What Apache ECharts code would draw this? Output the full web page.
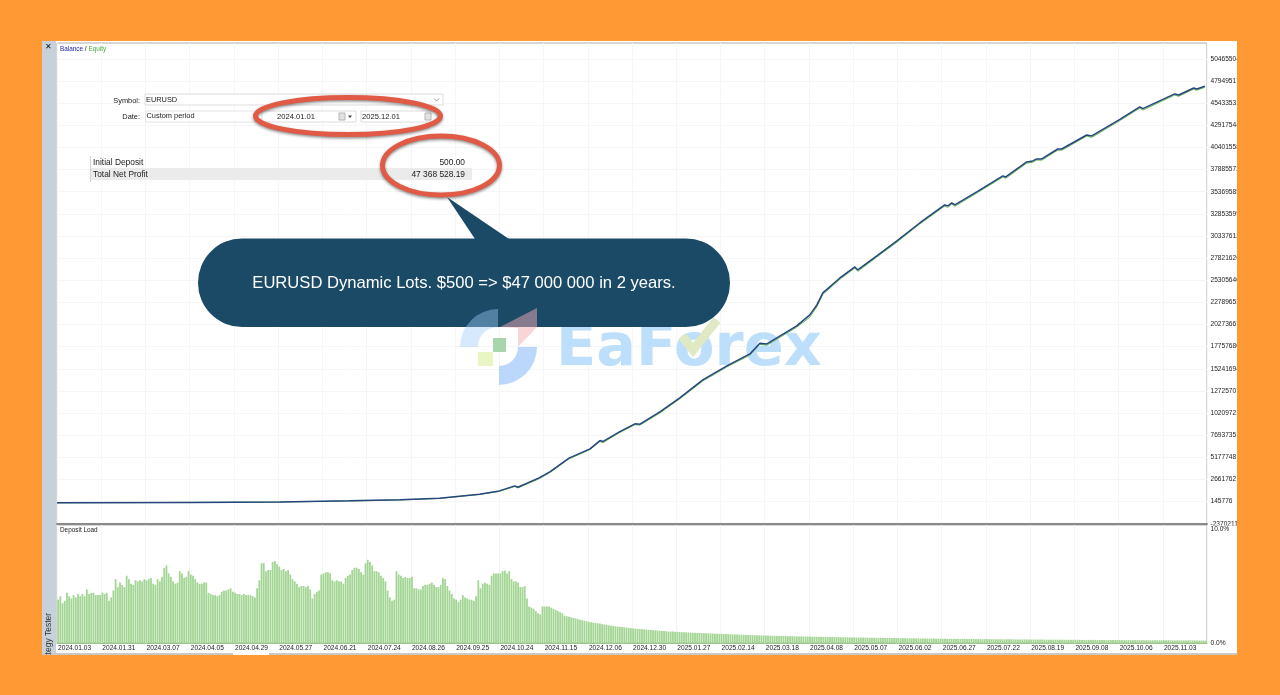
<!DOCTYPE html>
<html><head><meta charset="utf-8">
<style>html,body{margin:0;padding:0;background:#ff9933}#c{width:1280px;height:695px}</style>
<script src="https://cdn.jsdelivr.net/npm/echarts@6/dist/echarts.min.js"></script>
</head><body><div id="c"></div>
<script>
const xTickLabels=['2024.01.03','2024.01.31','2024.03.07','2024.04.05','2024.04.29','2024.05.27','2024.06.21','2024.07.24','2024.08.26','2024.09.25','2024.10.24','2024.11.15','2024.12.06','2024.12.30','2025.01.27','2025.02.14','2025.03.18','2025.04.08','2025.05.07','2025.06.02','2025.06.27','2025.07.22','2025.08.19','2025.09.08','2025.10.06','2025.11.03'];
const yTickValues=[-2370211,145776,2661762,5177748,7693735,10209721,12725707,15241694,17757680,20273667,22789653,25305640,27821626,30337612,32853599,35369585,37885572,40401558,42917544,45433531,47949517,50465504];
const curveIndex=[0,60,101,132,155,173,191,200,207,208.4,218,223,231.5,232.4,241,245.5,246.8,254.5,261.3,263.6,272.6,281.6,292,302.9,313.3,317.8,321,334.5,340.4,343.6,346.3,354,360.8,362.1,370.7,379.8,390.1,401.4,402.8,404.6,406,415.9,427.7,429,438.5,441.2,443,445.3,452.5,454.3,465.6,467.9,480.6,489.6,491,505.4,507.2,514,515.4,519];
const balanceMillions=[0.0005,0.05,0.11,0.225,0.34,0.532,0.987,1.36,1.93,1.78,2.84,3.56,5.08,4.89,6.14,7.08,6.97,8.10,8.98,8.94,10.34,11.93,13.98,15.57,16.93,18.15,18.07,20.12,21.37,22.50,23.87,25.57,26.82,26.48,28.07,29.78,31.82,33.87,33.76,34.10,33.87,35.35,37.17,37.05,38.76,38.87,39.10,39.10,40.23,40.23,41.82,41.71,43.59,45.01,44.82,46.49,46.37,47.17,47.05,47.37];
const equityMillions=[0.0005,0.05,0.10,0.21,0.32,0.51,0.95,1.30,1.86,1.70,2.74,3.46,5.00,4.78,6.05,6.98,6.85,8.00,8.88,8.84,10.22,11.82,13.85,15.45,16.80,18.02,17.92,19.98,21.10,22.30,23.70,25.42,26.70,26.32,27.95,29.65,31.70,33.74,33.60,33.98,33.72,35.22,37.05,36.90,38.62,38.72,38.98,38.96,40.10,40.08,41.70,41.55,43.46,44.88,44.66,46.36,46.22,47.05,46.90,47.25];
const depositLoad=[
3.8,4.1,3.5,3.7,4.4,4.1,3.9,4.2,4.0,4.3,4.1,4.3,4.1,4.7,4.3,4.4,4.4,4.2,4.2,4.2,
4.4,4.3,4.4,3.7,4.0,4.6,5.6,4.9,5.3,5.1,4.9,5.9,5.6,5.2,5.1,5.5,5.4,5.5,5.4,5.6,
5.5,5.6,5.7,5.2,5.1,5.6,5.4,5.8,6.6,6.8,6.1,5.8,5.4,5.2,5.3,6.3,6.1,5.7,5.8,6.3,
6.0,5.9,5.6,5.3,5.2,5.2,5.3,5.3,4.4,4.3,4.2,4.2,4.1,4.2,4.5,4.6,4.6,4.7,4.8,4.5,
4.4,4.3,4.3,4.2,4.3,4.2,4.2,4.2,4.1,4.0,4.8,5.5,7.0,7.0,6.3,6.4,6.4,7.1,7.2,6.9,
6.7,6.4,6.5,6.3,6.4,6.0,5.6,5.4,5.2,4.9,5.0,5.0,4.9,5.0,4.7,3.9,4.3,4.5,4.6,6.0,
6.1,6.2,6.2,6.1,5.5,5.4,5.5,5.4,5.4,5.2,5.7,5.9,6.0,6.4,6.6,6.6,6.5,6.2,6.0,7.0,
7.3,7.1,6.8,6.3,6.3,6.2,5.9,5.7,5.4,4.6,4.0,3.7,3.8,6.3,6.0,5.9,5.7,5.8,5.7,5.7,
5.8,4.8,4.8,4.7,4.7,5.0,5.1,5.1,5.2,5.3,5.1,4.9,4.9,5.1,5.7,5.6,5.0,4.6,4.3,3.9,
3.8,3.6,3.8,4.2,4.0,3.9,3.8,3.8,3.7,4.1,5.5,4.8,5.2,5.3,5.2,5.1,5.9,6.1,6.1,6.1,
6.1,6.3,6.35,6.1,6.3,5.6,5.4,5.4,5.3,4.9,4.9,5.0,3.9,3.2,3.1,3.0,2.8,2.6,2.5,3.2,
3.2,3.2,3.2,3.1,3.0,2.9,2.8,2.7,2.6,2.4,2.35,2.3,2.25,2.2,2.15,2.1,2.05,2.0,1.95,1.9,
1.85,1.82,1.8,1.75,1.72,1.7,1.65,1.62,1.6,1.55,1.52,1.5,1.47,1.45,1.42,1.4,1.37,1.35,1.33,1.3,
1.28,1.27,1.25,1.22,1.2,1.2,1.17,1.15,1.15,1.12,1.1,1.1,1.08,1.05,1.05,1.02,1.0,1.0,1.0,.98,
.98,.97,.95,.95,.94,.92,.92,.9,.9,.88,.88,.87,.86,.85,.85,.84,.83,.82,.82,.8,
.8,.78,.78,.77,.76,.75,.75,.74,.73,.72,.72,.71,.7,.7,.69,.68,.68,.67,.66,.66,
.65,.65,.64,.64,.63,.63,.62,.62,.62,.61,.6,.6,.6,.59,.59,.58,.58,.57,.57,.56,
.56,.55,.55,.55,.54,.54,.53,.53,.53,.52,.52,.52,.51,.51,.5,.5,.5,.5,.49,.49,
.49,.48,.48,.48,.47,.47,.47,.46,.46,.46,.46,.45,.45,.45,.44,.44,.44,.43,.43,.43,
.43,.42,.42,.42,.42,.41,.41,.41,.41,.4,.4,.4,.4,.39,.39,.39,.39,.38,.38,.38,
.38,.38,.37,.37,.37,.37,.36,.36,.36,.36,.36,.35,.35,.35,.35,.35,.34,.34,.34,.34,
.34,.33,.33,.33,.33,.33,.33,.32,.32,.32,.32,.32,.32,.31,.31,.31,.31,.31,.31,.31,
.3,.3,.3,.3,.3,.3,.3,.29,.29,.29,.29,.29,.29,.29,.29,.28,.28,.28,.28,.28,
.28,.28,.28,.27,.27,.27,.27,.27,.27,.27,.27,.27,.26,.26,.26,.26,.26,.26,.26,.26,
.26,.26,.25,.25,.25,.25,.25,.25,.25,.25,.25,.25,.24,.24,.24,.24,.24,.24,.24,.24,
.24,.24,.24,.23,.23,.23,.23,.23,.23,.23,.23,.23,.23,.23,.23,.22,.22,.22,.22,.22
];
const barCategories=xTickLabels.flatMap(t=>[t].concat(new Array(19).fill('')));
const pairs=(xs,ys)=>xs.map((x,i)=>[x,ys[i]*1e6]);
const F='"Liberation Sans",Arial,sans-serif';
const txt=(x,y,text,o={})=>({type:'text',z:o.z||20,silent:true,x,y,style:Object.assign({text,fill:'#222',font:'8.2px '+F,textVerticalAlign:'middle',textAlign:'left'},o.style||{})});
const box=(x,y,w,h,fill,stroke,z)=>({type:'rect',z:z||20,silent:true,shape:{x,y,width:w,height:h},style:{fill,stroke:stroke||null,lineWidth:stroke?1:0}});
const elements=[
 box(42,41,1195,614,'#ffffff',null,-5),
 box(42,41,14,614,'#c6d1da',null,-4),
 box(42,653,1195,2,'#c9c9c9',null,-4),
 box(233,653,36,2,'#ffffff',null,-3),
 box(1208,525.5,29,127,'#ffffff',null,1),
 txt(45,47,'✕',{style:{font:'bold 8px "DejaVu Sans"',fill:'#111'}}),
 {type:'text',z:20,silent:true,x:49,y:670,rotation:Math.PI/2,style:{text:'Strategy Tester',fill:'#333',font:'8.5px '+F,textVerticalAlign:'middle',textAlign:'left'}},
 {type:'text',z:20,silent:true,x:60,y:49.5,style:{text:'{a|Balance} / {b|Equity}',font:'6.4px '+F,textVerticalAlign:'middle',rich:{a:{fill:'#2323a8',font:'6.4px '+F},b:{fill:'#46ad3c',font:'6.4px '+F}}}},
 txt(60,530,'Deposit Load',{style:{font:'6.4px '+F}}),
 // settings form
 box(145,94,298,11,'#ffffff','#dddddd'),
 box(145.5,111,110,11,'#ffffff','#e4e4e4'),
 box(262,111,94,11,'#ffffff','#dddddd'),
 box(361,111,76,11,'#ffffff','#dddddd'),
 txt(140,100.5,'Symbol:',{style:{textAlign:'right',font:'7.4px '+F}}),
 txt(140,117,'Date:',{style:{textAlign:'right',font:'7.4px '+F}}),
 txt(146,99.5,'EURUSD',{style:{font:'7.4px '+F}}),
 txt(146.5,116,'Custom period',{style:{font:'7.4px '+F}}),
 txt(277,117,'2024.01.01',{style:{font:'7.6px '+F}}),
 txt(362,117,'2025.12.01',{style:{font:'7.6px '+F}}),
 box(339,113,6,7,'#e2e2e2','#b5b5b5'),
 box(425,113,6,7,'#e2e2e2','#b5b5b5'),
 {type:'polygon',z:20,silent:true,shape:{points:[[348,115.5],[352,115.5],[350,118]]},style:{fill:'#444'}},
 {type:'polyline',z:20,silent:true,shape:{points:[[434,98.5],[436.5,101],[439,98.5]]},style:{stroke:'#999',lineWidth:1,fill:null}},
 // results table
 box(90,156,0.8,26,'#c8c8c8',null),
 box(91,168,381,12,'#ebebeb',null),
 txt(93,162.5,'Initial Deposit',{style:{font:'8.4px '+F}}),
 txt(93,174.5,'Total Net Profit',{style:{font:'8.4px '+F}}),
 txt(465,162.5,'500.00',{style:{font:'8.4px '+F,textAlign:'right'}}),
 txt(465,174.5,'47 368 528.19',{style:{font:'8.4px '+F,textAlign:'right'}}),
 // highlight ellipses
 {type:'ellipse',z:30,silent:true,shape:{cx:348,cy:116,rx:92.5,ry:18.5},style:{fill:null,stroke:'#e05a45',lineWidth:5,shadowBlur:3,shadowColor:'rgba(0,0,0,.45)',shadowOffsetY:1.5}},
 {type:'ellipse',z:30,silent:true,shape:{cx:441,cy:165.5,rx:58.5,ry:29.5},style:{fill:null,stroke:'#e05a45',lineWidth:5,shadowBlur:3,shadowColor:'rgba(0,0,0,.45)',shadowOffsetY:1.5}},
 // callout
 {type:'polygon',z:31,silent:true,shape:{points:[[447,197],[475,239],[509,239]]},style:{fill:'#1b4a66'}},
 {type:'rect',z:31,silent:true,shape:{x:198,y:238.5,width:532,height:88.5,r:44},style:{fill:'#1b4a66'}},
 {type:'text',z:32,silent:true,x:464,y:283,style:{text:'EURUSD Dynamic Lots. $500 => $47 000 000 in 2 years.',fill:'#ffffff',font:'16.6px '+F,textAlign:'center',textVerticalAlign:'middle'}},
 // watermark
 {type:'sector',z:33,silent:true,shape:{cx:498,cy:347,r0:20,r:38,startAngle:Math.PI,endAngle:Math.PI*1.5,clockwise:true},style:{fill:'#9fcbf7',opacity:.42}},
 {type:'polygon',z:33,silent:true,shape:{points:[[500,327],[537,308],[537,327],[518,347],[518,328]]},style:{fill:'#f3a9b4',opacity:.5}},
 {type:'sector',z:33,silent:true,shape:{cx:499,cy:347,r0:19,r:38,startAngle:0,endAngle:Math.PI/2,clockwise:true},style:{fill:'#aacdfb',opacity:.8}},
 box(493,338,13,14,'#a8d4ae',null,33),
 box(478,352,15,14,'#e9f5c2',null,33),
 {type:'text',z:2,silent:true,x:556,y:350,style:{text:'EaForex',font:'bold 59px "DejaVu Sans"',fill:'#bddffb',textVerticalAlign:'middle',textAlign:'left'}},
 {type:'polyline',z:2,silent:true,shape:{points:[[682,336],[693,350],[717,320]]},style:{stroke:'#dfe9c4',lineWidth:9,fill:null}},
 // crop of the clipped axis labels
 box(1237,0,43,695,'#ff9933',null,1000),
 box(0,655,1280,40,'#ff9933',null,1000)
];
const axisText={color:'#222',fontSize:6.6,fontFamily:F};
const option={
 animation:false,backgroundColor:'#ff9933',
 graphic:{elements},
 grid:[
  {left:57,right:73,top:43,height:480.7,show:true,borderColor:'#adadad',borderWidth:1,backgroundColor:'transparent'},
  {left:57,right:73,top:525,height:118,show:true,borderColor:'#adadad',borderWidth:1,backgroundColor:'transparent'}
 ],
 xAxis:[
  {type:'value',gridIndex:0,min:0,max:520,interval:20,
   axisLine:{show:true,onZero:false,lineStyle:{color:'#8a8a8a',width:2}},axisTick:{show:false},axisLabel:{show:false},
   splitLine:{show:true,lineStyle:{color:'#f6f6f6',width:1}}},
  {type:'category',gridIndex:1,data:barCategories,boundaryGap:true,
   axisLine:{show:true,onZero:false,lineStyle:{color:'#9cc58c',width:1}},axisTick:{show:false},
   axisLabel:Object.assign({},axisText,{interval:19,align:'left',margin:2,hideOverlap:false}),
   splitLine:{show:true,interval:19,lineStyle:{color:'#f4f4f4',width:1}}}
 ],
 yAxis:[
  {type:'value',gridIndex:0,position:'right',min:-2370211,max:52280000,z:0,
   axisLine:{show:false},
   axisTick:{show:false,customValues:yTickValues},
   axisLabel:Object.assign({},axisText,{margin:3.5,hideOverlap:false,customValues:yTickValues,formatter:v=>String(Math.round(v))}),
   splitLine:{show:true,lineStyle:{color:'#f6f6f6',width:1}}},
  {type:'value',gridIndex:1,position:'right',min:0,max:10.35,z:3,
   axisLine:{show:false},
   axisTick:{show:false,customValues:[0,10]},
   axisLabel:Object.assign({},axisText,{margin:3.5,customValues:[0,10],hideOverlap:false,formatter:v=>v.toFixed(1)+'%'}),
   splitLine:{show:false}}
 ],
 series:[
  {name:'Equity',type:'line',xAxisIndex:0,yAxisIndex:0,data:pairs(curveIndex,equityMillions),symbol:'none',z:3,lineStyle:{color:'#5fb84a',width:1}},
  {name:'Balance',type:'line',xAxisIndex:0,yAxisIndex:0,data:pairs(curveIndex,balanceMillions),symbol:'none',z:4,lineStyle:{color:'#274680',width:1.5}},
  {name:'Deposit Load',type:'bar',xAxisIndex:1,yAxisIndex:1,data:depositLoad,barWidth:1.8,itemStyle:{color:'#a3d594'}}
 ]
};
echarts.init(document.getElementById('c'),null,{renderer:'canvas'}).setOption(option);
</script></body></html>
